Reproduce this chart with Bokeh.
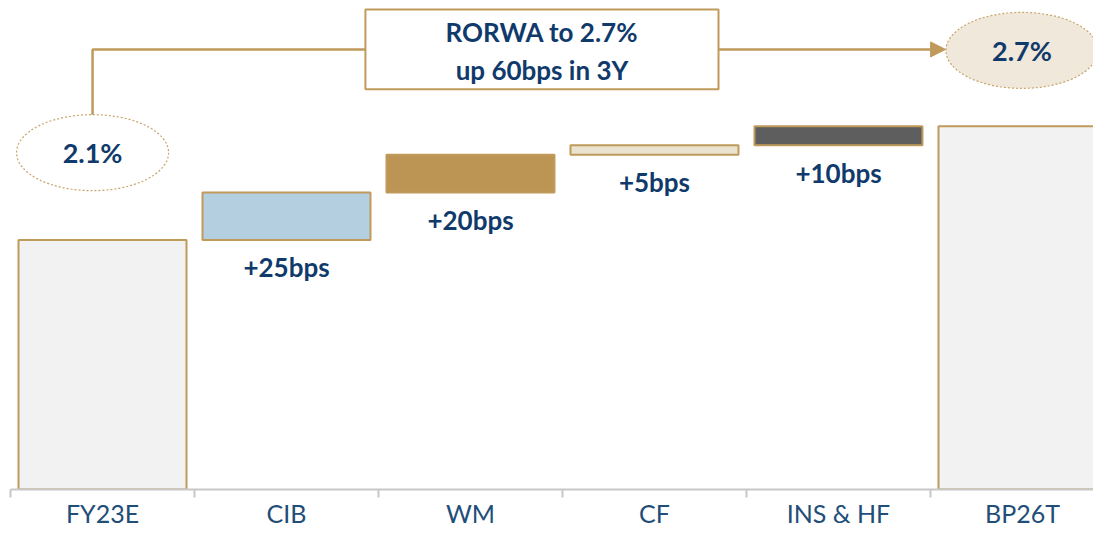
from bokeh.plotting import figure
from bokeh.models import Range1d, FixedTicker, Arrow, NormalHead
from bokeh.core.properties import value
from bokeh.embed import file_html
from bokeh.resources import INLINE

# ---- data ----
categories = ["FY23E", "CIB", "WM", "CF", "INS & HF", "BP26T"]
values = [2.1, 0.25, 0.20, 0.05, 0.10, 2.7]          # % (totals) and % deltas
kinds = ["total", "delta", "delta", "delta", "delta", "total"]
delta_labels = ["", "+25bps", "+20bps", "+5bps", "+10bps", ""]
fills = ["#F2F2F2", "#B3CFE0", "#BC9555", "#E9E3CF", "#5E5E5E", "#F2F2F2"]
headline = ["RORWA to 2.7%", "up 60bps in 3Y"]

GOLD = "#C09A5B"
NAVY = "#103A6B"
AXIS_NAVY = "#1F4E79"
FONT = "Lato"

Y0, Y1 = 0.784, 3.363
XEND = 5.886

# waterfall geometry
bottoms, tops, running = [], [], 0.0
for v, k in zip(values, kinds):
    if k == "total":
        bottoms.append(Y0)
        tops.append(v)
        running = v
    else:
        bottoms.append(running)
        tops.append(running + v)
        running += v

centers = [i + 0.5 for i in range(len(categories))]
half = 0.4565

p = figure(width=1093, height=530, output_backend="svg", toolbar_location=None,
           x_range=Range1d(0, XEND), y_range=Range1d(Y0, Y1),
           min_border_left=10, min_border_right=0, min_border_top=0, min_border_bottom=30)
p.outline_line_color = None
p.grid.visible = False
p.yaxis.visible = False
p.background_fill_color = "white"
p.border_fill_color = "white"

p.quad(left=[c - half for c in centers], right=[c + half for c in centers],
       bottom=bottoms, top=tops, fill_color=fills, line_color=GOLD, line_width=2)

# delta labels below the floating bars
dl_x = [c for c, k in zip(centers, kinds) if k == "delta"]
dl_y = [b - 0.06 for b, k in zip(bottoms, kinds) if k == "delta"]
dl_t = [t for t, k in zip(delta_labels, kinds) if k == "delta"]
p.text(x=dl_x, y=dl_y, text=dl_t, text_align="center", text_baseline="top",
       text_font=value(FONT), text_font_style="bold", text_font_size="26px",
       text_color=NAVY)

# connector line, headline box and arrow
p.line(x=[0.446, 0.446, 1.929], y=[2.758, 3.105, 3.105], line_color=GOLD, line_width=2.5)
p.quad(left=[1.929], right=[3.848], bottom=[2.895], top=[3.316],
       fill_color="white", line_color=GOLD, line_width=2)
p.text(x=[2.8885, 2.8885], y=[3.195, 2.995], text=headline, text_align="center",
       text_baseline="middle", text_font=value(FONT), text_font_style="bold",
       text_font_size="26px", text_color=NAVY)
p.add_layout(Arrow(end=NormalHead(size=15, fill_color=GOLD, line_color=GOLD),
                   x_start=3.848, y_start=3.105, x_end=5.082, y_end=3.105,
                   line_color=GOLD, line_width=2.5))

# start / end bubbles
p.ellipse(x=[0.446, 5.497], y=[2.5605, 3.100], width=152, height=76,
          width_units="screen", height_units="screen",
          fill_color=["white", "#F0E8DA"], line_color="#C9A46A",
          line_width=1.2, line_dash="2 2")
p.text(x=[0.446, 5.497], y=[2.5605, 3.100],
       text=[f"{values[0]:.1f}%", f"{values[-1]:.1f}%"],
       text_align="center", text_baseline="middle", text_font=value(FONT),
       text_font_style="bold", text_font_size="27px", text_color=NAVY)

# x axis
ax = p.xaxis[0]
ax.ticker = FixedTicker(ticks=centers, minor_ticks=list(range(len(categories) + 1)))
ax.major_label_overrides = {c: name for c, name in zip(centers, categories)}
ax.major_tick_out = 0
ax.major_tick_in = 0
ax.minor_tick_out = 8
ax.minor_tick_in = 0
ax.minor_tick_line_color = "#C8C8C8"
ax.minor_tick_line_width = 2
ax.axis_line_color = "#C8C8C8"
ax.axis_line_width = 2
ax.major_label_text_font = FONT
ax.major_label_text_font_size = "25px"
ax.major_label_text_color = AXIS_NAVY
ax.major_label_standoff = 0

open("out.html", "w").write(file_html(p, INLINE))
